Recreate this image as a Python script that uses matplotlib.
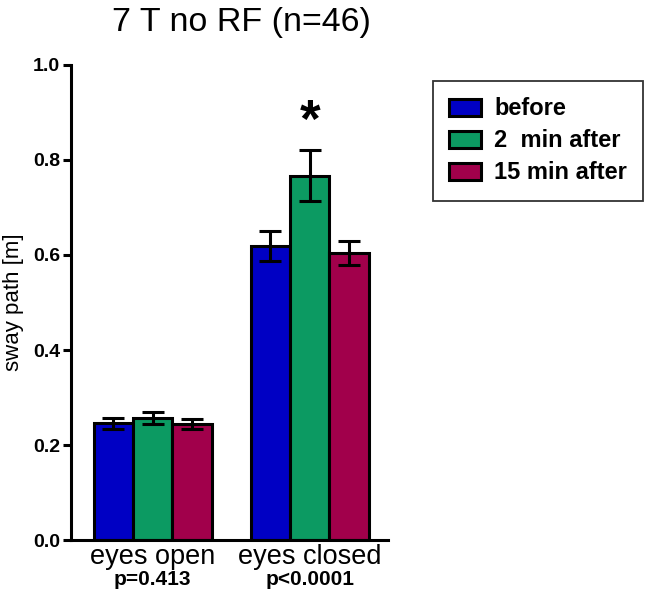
import numpy as np
import matplotlib
matplotlib.use("Agg")
from matplotlib import pyplot as plt
from matplotlib.transforms import blended_transform_factory

plt.rcParams['font.family'] = ['Liberation Sans', 'DejaVu Sans']

groups  = ["eyes open", "eyes closed"]
pvals   = ["p=0.413", "p<0.0001"]
series  = ["before", "2  min after", "15 min after"]
means   = [[0.246, 0.619],
           [0.257, 0.767],
           [0.244, 0.604]]
errs    = [[0.012, 0.031],
           [0.012, 0.054],
           [0.011, 0.025]]
colors  = ["#0000C4", "#0C9A62", "#A1004B"]

fig = plt.figure(figsize=(6.58, 6.05), dpi=100)
ax = fig.add_axes([0.108, 0.107, 0.482, 0.786])

x = np.arange(len(groups))
w = 0.25
for ii in range(3):
    ax.bar(x + (ii - 1) * w, means[ii], w, color=colors[ii], edgecolor="black",
           linewidth=2.2, label=series[ii], zorder=2)
    ax.errorbar(x + (ii - 1) * w, means[ii], yerr=errs[ii], fmt="none", ecolor="black",
                elinewidth=2.2, capsize=8, capthick=2.2, zorder=3)

# significance marker above 2 min after / eyes closed
ax.text(x[1], 0.825, "*", ha="center", va="bottom", fontsize=38, fontweight="bold")

ax.set_xlim(-0.52, 1.5)
ax.set_ylim(0, 1.0)
ax.set_yticks([0.0, 0.2, 0.4, 0.6, 0.8, 1.0])
ax.set_yticklabels(["0.0", "0.2", "0.4", "0.6", "0.8", "1.0"], fontweight="bold", fontsize=14)
ax.set_xticks(x)
ax.set_xticklabels(groups, fontsize=19.5)
ax.tick_params(axis="x", length=0, pad=3)
ax.tick_params(axis="y", length=6, width=2.2, pad=2)
for s in ["top", "right"]:
    ax.spines[s].set_visible(False)
for s in ["left", "bottom"]:
    ax.spines[s].set_linewidth(2.2)

tr = blended_transform_factory(ax.transData, ax.transAxes)
for ii in range(len(groups)):
    ax.text(x[ii], -0.063, pvals[ii], transform=tr, ha="center", va="top",
            fontsize=15, fontweight="bold")

ax.set_ylabel("sway path [m]", fontsize=16, labelpad=6)
fig.text(0.367, 0.963, "7 T no RF (n=46)", ha="center", va="center", fontsize=24.5)

leg = ax.legend(loc="upper left", bbox_to_anchor=(1.14, 0.966), frameon=True, fancybox=False,
                edgecolor="black", prop={"weight": "bold", "size": 17},
                handlelength=1.35, handleheight=0.72, borderpad=0.7, labelspacing=0.38,
                handletextpad=0.55, borderaxespad=0)
leg.get_frame().set_linewidth(1.3)

fig.savefig("out.png", dpi=100)
